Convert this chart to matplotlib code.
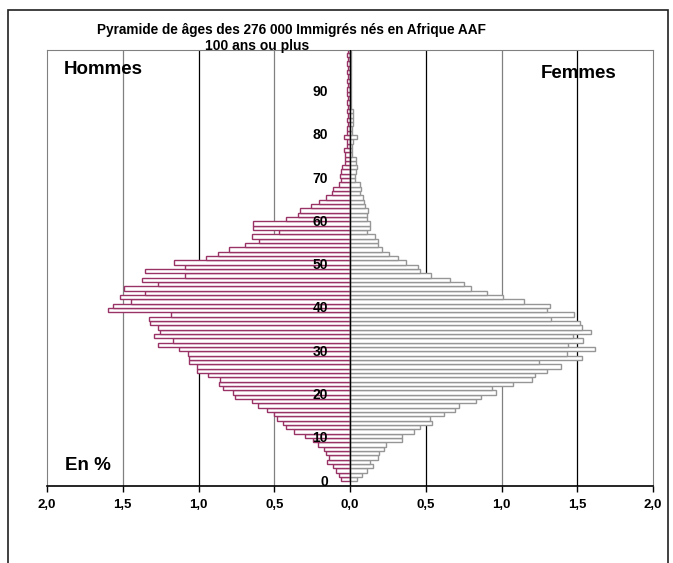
import numpy as np
import matplotlib
matplotlib.use('Agg')
import matplotlib.pyplot as plt
from matplotlib.patches import Rectangle

plt.rcParams['font.family'] = ['Liberation Sans', 'DejaVu Sans']

# pourcentages par age (0 a 99 ans)
ages = np.arange(100)
hommes = [
    0.06, 0.07, 0.09, 0.11, 0.15, 0.14, 0.16, 0.17, 0.21, 0.245,
    0.30, 0.37, 0.42, 0.44, 0.48, 0.50, 0.55, 0.61, 0.65, 0.76,
    0.77, 0.84, 0.865, 0.855, 0.94, 1.01, 1.01, 1.06, 1.06, 1.07,
    1.13, 1.27, 1.17, 1.295, 1.255, 1.27, 1.32, 1.33, 1.18, 1.60,
    1.565, 1.445, 1.515, 1.35, 1.49, 1.27, 1.37, 1.09, 1.35, 1.09,
    1.16, 0.95, 0.87, 0.80, 0.69, 0.60, 0.65, 0.47, 0.64, 0.64,
    0.42, 0.34, 0.33, 0.26, 0.205, 0.157, 0.118, 0.11, 0.074, 0.058,
    0.063, 0.058, 0.052, 0.036, 0.03, 0.03, 0.04, 0.023, 0.023, 0.04,
    0.02, 0.02, 0.015, 0.02, 0.015, 0.02, 0.015, 0.02, 0.015, 0.02,
    0.02, 0.015, 0.02, 0.015, 0.02, 0.015, 0.02, 0.015, 0.02, 0.015,
]
femmes = [
    0.047, 0.08, 0.113, 0.15, 0.135, 0.186, 0.19, 0.225, 0.235, 0.345,
    0.345, 0.42, 0.465, 0.54, 0.53, 0.62, 0.69, 0.72, 0.83, 0.865,
    0.965, 0.94, 1.075, 1.20, 1.22, 1.30, 1.39, 1.25, 1.53, 1.43,
    1.62, 1.44, 1.54, 1.47, 1.59, 1.53, 1.52, 1.33, 1.48, 1.30,
    1.32, 1.15, 1.01, 0.905, 0.80, 0.755, 0.66, 0.536, 0.46, 0.45,
    0.37, 0.32, 0.26, 0.212, 0.186, 0.186, 0.164, 0.113, 0.135, 0.135,
    0.113, 0.11, 0.118, 0.10, 0.09, 0.087, 0.063, 0.07, 0.065, 0.036,
    0.036, 0.04, 0.043, 0.04, 0.04, 0.015, 0.01, 0.015, 0.02, 0.045,
    0.015, 0.015, 0.02, 0.02, 0.02, 0.02, 0.008, 0.005, 0.008, 0.005,
    0.005, 0.005, 0.005, 0.005, 0.005, 0.005, 0.005, 0.005, 0.005, 0.005,
]
age_labels = [0, 10, 20, 30, 40, 50, 60, 70, 80, 90]
x_ticks = [-2, -1.5, -1, -0.5, 0, 0.5, 1, 1.5, 2]
x_labels = ['2,0', '1,5', '1,0', '0,5', '0,0', '0,5', '1,0', '1,5', '2,0']

W, H = 673, 563
fig = plt.figure(figsize=(W / 100, H / 100), dpi=100)
ax = fig.add_axes([47 / W, 1 - 486 / H, 606 / W, 436 / H])

# quadrillage vertical
grid_cols = {-1.5: '#808080', -1.0: 'black', -0.5: '#808080',
             0.5: 'black', 1.0: '#808080', 1.5: 'black'}
for gx, c in grid_cols.items():
    ax.axvline(gx, color=c, lw=0.9, zorder=0)

ax.barh(ages, -np.array(hommes), height=1.0, color='white',
        edgecolor='#993366', lw=1.0, zorder=2)
ax.barh(ages, femmes, height=1.0, color='white',
        edgecolor='#969696', lw=1.0, zorder=2)
ax.axvline(0, color='black', lw=1.0, zorder=3)

ax.set_xlim(-2, 2)
ax.set_ylim(-1.6, 99.1)
ax.set_xticks(x_ticks)
ax.set_xticklabels(x_labels, fontsize=9.5, fontweight='bold')
ax.tick_params(axis='x', length=4, width=1, pad=5)
ax.set_yticks([])
for s in ['left', 'right', 'top']:
    ax.spines[s].set_color('#808080')
ax.spines['bottom'].set_color('black')
ax.spines['bottom'].set_linewidth(1.2)

for a in age_labels:
    ax.text(-0.145, a - 0.6, str(a), ha='right', va='center',
            fontsize=10, fontweight='bold', zorder=4)
ax.text(-0.27, 100.0, '100 ans ou plus', ha='right', va='center',
        fontsize=10, fontweight='bold', clip_on=False)

ax.text(17 / 606, 1 - 20 / 436, 'Hommes', transform=ax.transAxes,
        fontsize=13.5, fontweight='bold', va='center')
ax.text(570 / 606, 1 - 23 / 436, 'Femmes', transform=ax.transAxes,
        fontsize=13.5, fontweight='bold', va='center', ha='right')
ax.text(18 / 606, 21 / 436, 'En %', transform=ax.transAxes, fontsize=13.5,
        fontweight='bold', va='center')

fig.text(291 / W, 1 - 30 / H,
         'Pyramide de âges des 276 000 Immigrés nés en Afrique AAF',
         ha='center', va='center', fontsize=9.8, fontweight='bold')

# cadre exterieur
fig.patches.append(Rectangle((8 / W, -0.05), 660 / W, 1.05 - 10 / H,
                             transform=fig.transFigure, fill=False,
                             edgecolor='#202020', lw=1.2))

fig.savefig('out.png', dpi=100)
